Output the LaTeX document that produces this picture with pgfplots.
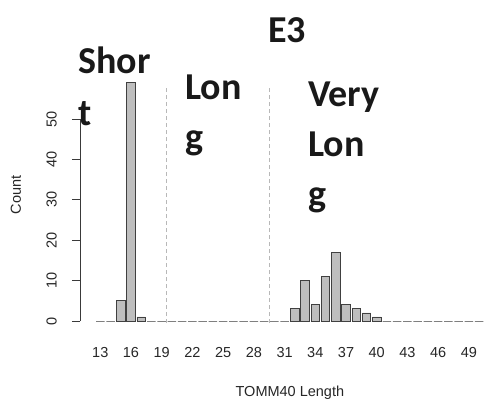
\documentclass[border=0pt]{standalone}
\usepackage{fontspec}
\setmainfont{Liberation Sans}
\newfontfamily\calibri{Carlito}
\usepackage{pgfplots}
\pgfplotsset{compat=1.18}
\definecolor{bargray}{HTML}{BEBEBE}
\definecolor{barline}{HTML}{404040}
\definecolor{axisgray}{HTML}{3A3A3A}
\definecolor{splitgray}{HTML}{B8B8B8}

% TOMM40 length counts
\pgfplotstableread{
len count
13 0
14 0
15 5
16 59
17 1
18 0
19 0
20 0
21 0
22 0
23 0
24 0
25 0
26 0
27 0
28 0
29 0
30 0
31 0
32 3
33 10
34 4
35 11
36 17
37 4
38 3
39 2
40 1
41 0
42 0
43 0
44 0
45 0
46 0
47 0
48 0
49 0
50 0
}\lengths

\newcommand{\bigword}{\calibri\bfseries\fontsize{38}{50}\selectfont}
\newcommand{\labelfont}{\fontsize{14.5}{17}\selectfont}

\begin{document}
\begin{tikzpicture}[x=1pt,y=1pt]
\useasboundingbox (0,0) rectangle (486,401);
\begin{axis}[
  at={(80pt,80pt)}, anchor=south west,
  scale only axis, width=406pt, height=202pt,
  xmin=11.02, xmax=50.67, ymin=0, ymax=50,
  clip=false,
  axis x line*=bottom, axis y line*=left,
  axis line style={-},
  x axis line style={draw=none},
  y axis line style={axisgray, line width=0.8pt},
  xtick={13,16,...,49},
  ytick={0,10,...,50},
  major x tick style={draw=none},
  major y tick style={axisgray, line width=0.8pt},
  tick align=outside, major tick length=8pt,
  /pgf/number format/assume math mode=true,
  tick label style={font=\labelfont, text=black!85},
  xticklabel style={anchor=base, yshift=-28pt},
  yticklabel style={xshift=-15pt, rotate=90, anchor=south, inner sep=0pt},
  xlabel={TOMM40 Length},
  ylabel={Count},
  every axis x label/.style={at={(rel axis cs:0.517,0)}, anchor=base, yshift=-75pt, font=\labelfont, text=black!85},
  every axis y label/.style={at={(rel axis cs:0,0.624)}, xshift=-64pt, rotate=90, anchor=center, font=\labelfont, text=black!85},
]
\addplot[ybar, bar width=0.83, fill=bargray, draw=barline, line width=0.8pt] table[x=len, y=count] {\lengths};
% group boundaries
\addplot[splitgray, line width=0.8pt, dash pattern=on 4pt off 3pt] coordinates {(19.5,-0.5) (19.5,58.4)};
\addplot[splitgray, line width=0.8pt, dash pattern=on 4pt off 3pt] coordinates {(29.5,-0.5) (29.5,58.4)};
\end{axis}
% group names
\node[anchor=base west, inner sep=0pt, text=black!90] at (268,358) {\bigword E3};
\node[anchor=base west, inner sep=0pt, text=black!90] at (78,327) {\bigword Shor};
\node[anchor=base west, inner sep=0pt, text=black!90] at (78,275) {\bigword t};
\node[anchor=base west, inner sep=0pt, text=black!90] at (185,301) {\bigword Lon};
\node[anchor=base west, inner sep=0pt, text=black!90] at (185,251) {\bigword g};
\node[anchor=base west, inner sep=0pt, text=black!90] at (308,294) {\bigword Very};
\node[anchor=base west, inner sep=0pt, text=black!90] at (308,244) {\bigword Lon};
\node[anchor=base west, inner sep=0pt, text=black!90] at (308,194) {\bigword g};
\end{tikzpicture}
\end{document}
